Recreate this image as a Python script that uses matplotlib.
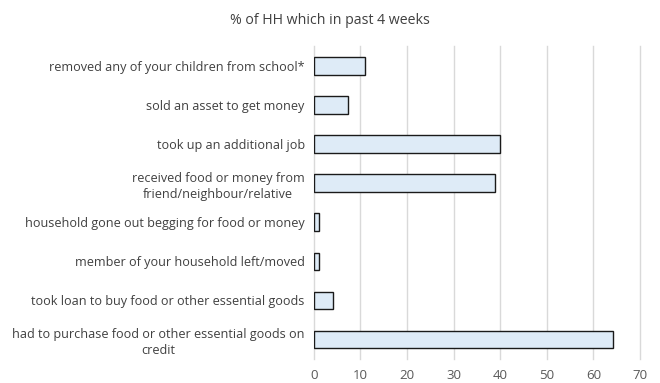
import matplotlib
matplotlib.use("Agg")
import matplotlib.pyplot as plt

categories = [
    "removed any of your children from school*",
    "sold an asset to get money",
    "took up an additional job",
    "received food or money from\nfriend/neighbour/relative",
    "household gone out begging for food or money",
    "member of your household left/moved",
    "took loan to buy food or other essential goods",
    "had to purchase food or other essential goods on\ncredit",
]
values = [11.0, 7.3, 39.9, 38.8, 1.2, 1.2, 4.1, 64.3]
xticks = [0, 10, 20, 30, 40, 50, 60, 70]
title = "% of HH which in past 4 weeks"

plt.rcParams["font.family"] = ["Open Sans", "DejaVu Sans"]

fig = plt.figure(figsize=(6.6, 3.83), dpi=100)
ax = fig.add_axes([0.4753, 0.0627, 0.4944, 0.8159])

y = list(range(len(categories)))
ax.barh(y, values, height=0.45, color="#DEEBF7", edgecolor="#1a1a1a", linewidth=1.0, zorder=3)
ax.set_ylim(len(categories) - 0.5, -0.5)
ax.set_xlim(0, 70)
ax.set_xticks(xticks)
ax.set_xticklabels([str(t) for t in xticks], fontsize=9.5, color="#595959")
ax.set_yticks(y)
ax.set_yticklabels(categories, fontsize=9.1, color="#404040", linespacing=1.35)
for lab in ax.get_yticklabels():
    lab.set_multialignment("center")
ax.tick_params(axis="both", length=0)
ax.tick_params(axis="y", pad=6.5)
ax.tick_params(axis="x", pad=7)
ax.grid(axis="x", color="#D9D9D9", linewidth=1.0, zorder=0)
for gl in ax.get_xgridlines():
    gl.set_clip_on(False)
for s in ax.spines.values():
    s.set_visible(False)

fig.text(0.5, 0.947, title, ha="center", va="center", fontsize=10.2, color="#404040")

fig.savefig("out.png", dpi=100)
